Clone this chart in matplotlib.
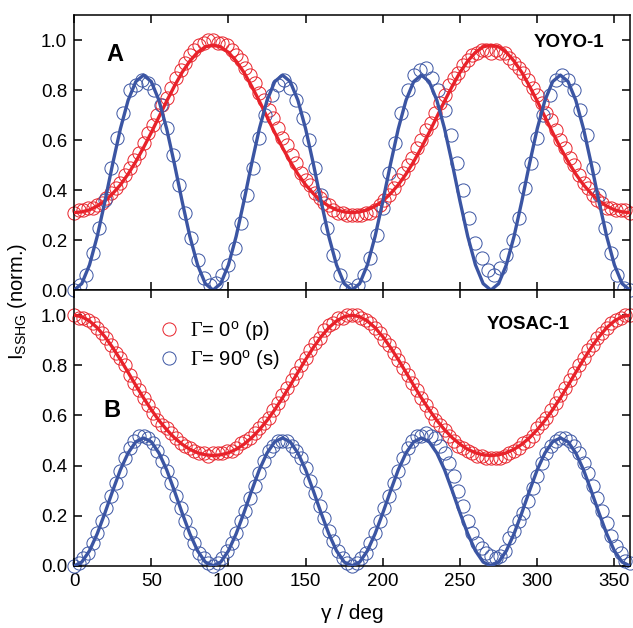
import numpy as np
import matplotlib
matplotlib.use('Agg')
import matplotlib.pyplot as plt

plt.rcParams['font.family'] = ['Liberation Sans', 'DejaVu Sans']
plt.rcParams['mathtext.fontset'] = 'custom'
plt.rcParams['mathtext.rm'] = 'Liberation Serif'
plt.rcParams['mathtext.sf'] = 'Liberation Sans'

RED = '#e8222a'
BLUE = '#3b55a3'

# measured points: red every 3 deg, blue (panel A) every 4 deg, blue (panel B) every 3 deg
gamma_red = np.arange(0, 361, 3)
gamma_blue_a = np.arange(0, 361, 4)
gamma_blue_b = np.arange(0, 361, 3)
gamma_fit = np.arange(0, 361, 5)

yoyo_p = [0.31, 0.32, 0.32, 0.33, 0.33, 0.34, 0.35, 0.37, 0.39, 0.41,
          0.43, 0.46, 0.49, 0.52, 0.55, 0.59, 0.63, 0.66, 0.70, 0.74,
          0.77, 0.81, 0.85, 0.88, 0.91, 0.94, 0.96, 0.98, 0.99, 1.00, 1.00,
          0.99, 0.99, 0.98, 0.96, 0.94, 0.92, 0.89, 0.86, 0.83, 0.79,
          0.76, 0.72, 0.69, 0.65, 0.61, 0.58, 0.54, 0.51, 0.47, 0.44,
          0.42, 0.39, 0.37, 0.35, 0.34, 0.32, 0.31, 0.31, 0.30, 0.30,
          0.30, 0.30, 0.31, 0.31, 0.32, 0.34, 0.36, 0.38, 0.41, 0.44,
          0.47, 0.50, 0.53, 0.57, 0.60, 0.64, 0.67, 0.71, 0.75, 0.78,
          0.82, 0.85, 0.87, 0.90, 0.92, 0.94, 0.95, 0.96, 0.96, 0.95,
          0.96, 0.95, 0.95, 0.93, 0.91, 0.89, 0.87, 0.84, 0.81, 0.78,
          0.75, 0.71, 0.68, 0.64, 0.60, 0.57, 0.53, 0.50, 0.46, 0.43,
          0.41, 0.38, 0.36, 0.35, 0.33, 0.33, 0.32, 0.32, 0.32, 0.31]

yoyo_s = [0.00, 0.02, 0.06, 0.15, 0.25, 0.36, 0.49, 0.61, 0.71, 0.80,
          0.82, 0.84, 0.83, 0.80, 0.74, 0.65, 0.54, 0.42, 0.31, 0.21,
          0.12, 0.05, 0.02,
          0.03, 0.06, 0.10, 0.17, 0.27, 0.38, 0.49, 0.61, 0.70, 0.78,
          0.82, 0.84, 0.81, 0.76, 0.69, 0.60, 0.49, 0.38, 0.25, 0.14,
          0.06, 0.01,
          0.00, 0.02, 0.06, 0.13, 0.22, 0.33, 0.47, 0.59, 0.71, 0.80,
          0.86, 0.88, 0.89, 0.85, 0.80, 0.72, 0.62, 0.51, 0.40, 0.29,
          0.19, 0.13, 0.08,
          0.06, 0.09, 0.14, 0.20, 0.29, 0.41, 0.51, 0.61, 0.70, 0.78,
          0.84, 0.86, 0.84, 0.80, 0.72, 0.62, 0.49, 0.38, 0.25, 0.15,
          0.06, 0.01, 0.00]

yosac_p = [1.00, 0.99, 0.99, 0.98, 0.97, 0.95, 0.93, 0.91, 0.88, 0.85,
           0.83, 0.80, 0.76, 0.73, 0.70, 0.67, 0.64, 0.61, 0.58, 0.56,
           0.55, 0.53, 0.51, 0.49, 0.48, 0.47, 0.46, 0.45, 0.45, 0.44, 0.45,
           0.45, 0.45, 0.46, 0.46, 0.47, 0.49, 0.50, 0.51, 0.53, 0.55,
           0.57, 0.59, 0.62, 0.65, 0.68, 0.71, 0.74, 0.77, 0.80, 0.83,
           0.86, 0.89, 0.91, 0.94, 0.96, 0.97, 0.99, 0.99, 1.00, 1.00,
           1.00, 0.99, 0.98, 0.97, 0.95, 0.93, 0.90, 0.88, 0.85, 0.82,
           0.79, 0.76, 0.73, 0.70, 0.67, 0.64, 0.61, 0.58, 0.56, 0.54,
           0.52, 0.50, 0.48, 0.47, 0.46, 0.45, 0.44, 0.44, 0.43, 0.43,
           0.43, 0.43, 0.44, 0.45, 0.46, 0.47, 0.49, 0.50, 0.52, 0.55,
           0.57, 0.59, 0.62, 0.65, 0.68, 0.71, 0.74, 0.77, 0.80, 0.83,
           0.86, 0.88, 0.91, 0.93, 0.95, 0.97, 0.98, 0.99, 1.00, 1.00]

yosac_s = [0.00, 0.01, 0.03, 0.05, 0.09, 0.13, 0.18, 0.23, 0.28, 0.33,
           0.38, 0.43, 0.47, 0.50, 0.52, 0.52, 0.51, 0.49, 0.46, 0.42,
           0.38, 0.33, 0.28, 0.23, 0.18, 0.13, 0.09, 0.05, 0.03, 0.01, 0.00,
           0.01, 0.03, 0.06, 0.09, 0.13, 0.18, 0.22, 0.27, 0.32, 0.37,
           0.42, 0.46, 0.48, 0.50, 0.50, 0.50, 0.48, 0.46, 0.43, 0.39,
           0.34, 0.29, 0.24, 0.19, 0.14, 0.10, 0.06, 0.03, 0.01, 0.00,
           0.01, 0.03, 0.05, 0.09, 0.13, 0.18, 0.23, 0.28, 0.33, 0.38,
           0.43, 0.47, 0.50, 0.52, 0.52, 0.53, 0.52, 0.51, 0.48, 0.45,
           0.41, 0.36, 0.30, 0.24, 0.18, 0.13, 0.09, 0.07, 0.05, 0.04,
           0.03, 0.04, 0.06, 0.11, 0.14, 0.18, 0.21, 0.26, 0.31, 0.36,
           0.41, 0.45, 0.48, 0.50, 0.51, 0.51, 0.50, 0.48, 0.45, 0.41,
           0.37, 0.32, 0.27, 0.22, 0.17, 0.12, 0.08, 0.05, 0.02, 0.01]

# fitted curves, every 5 deg
yoyo_p_fit = [0.310, 0.313, 0.321, 0.336, 0.357, 0.386, 0.421, 0.464, 0.514, 0.570,
              0.630, 0.693, 0.756, 0.816, 0.871, 0.916, 0.951, 0.973, 0.980,
              0.973, 0.951, 0.916, 0.871, 0.816, 0.756, 0.693, 0.630, 0.570,
              0.514, 0.464, 0.421, 0.386, 0.357, 0.336, 0.321, 0.313, 0.310,
              0.313, 0.321, 0.336, 0.357, 0.386, 0.421, 0.464, 0.514, 0.570,
              0.630, 0.693, 0.756, 0.816, 0.871, 0.916, 0.951, 0.973, 0.980,
              0.973, 0.951, 0.916, 0.871, 0.816, 0.756, 0.693, 0.630, 0.570,
              0.514, 0.464, 0.421, 0.386, 0.357, 0.336, 0.321, 0.313, 0.310]

yoyo_s_fit = [0.000, 0.026, 0.101, 0.215, 0.355, 0.505, 0.645, 0.759, 0.834, 0.860,
              0.834, 0.759, 0.645, 0.505, 0.355, 0.215, 0.101, 0.026, 0.000,
              0.026, 0.101, 0.215, 0.355, 0.505, 0.645, 0.759, 0.834, 0.860,
              0.834, 0.759, 0.645, 0.505, 0.355, 0.215, 0.101, 0.026, 0.000,
              0.026, 0.101, 0.215, 0.355, 0.505, 0.645, 0.759, 0.834, 0.860,
              0.834, 0.759, 0.645, 0.505, 0.355, 0.215, 0.101, 0.026, 0.000,
              0.026, 0.101, 0.215, 0.355, 0.505, 0.645, 0.759, 0.834, 0.860,
              0.834, 0.759, 0.645, 0.505, 0.355, 0.215, 0.101, 0.026, 0.000]

yosac_p_fit = [1.000, 0.994, 0.977, 0.950, 0.914, 0.871, 0.823, 0.772, 0.720, 0.670,
               0.623, 0.580, 0.543, 0.511, 0.485, 0.465, 0.451, 0.443, 0.440,
               0.443, 0.451, 0.465, 0.485, 0.511, 0.543, 0.580, 0.623, 0.670,
               0.720, 0.772, 0.823, 0.871, 0.914, 0.950, 0.977, 0.994, 1.000,
               0.994, 0.977, 0.950, 0.914, 0.871, 0.823, 0.772, 0.720, 0.670,
               0.623, 0.580, 0.543, 0.511, 0.485, 0.465, 0.451, 0.443, 0.440,
               0.443, 0.451, 0.465, 0.485, 0.511, 0.543, 0.580, 0.623, 0.670,
               0.720, 0.772, 0.823, 0.871, 0.914, 0.950, 0.977, 0.994, 1.000]

yosac_s_fit = [0.000, 0.015, 0.060, 0.128, 0.211, 0.299, 0.383, 0.450, 0.495, 0.510,
               0.495, 0.450, 0.383, 0.299, 0.211, 0.128, 0.060, 0.015, 0.000,
               0.015, 0.060, 0.128, 0.211, 0.299, 0.383, 0.450, 0.495, 0.510,
               0.495, 0.450, 0.383, 0.299, 0.211, 0.128, 0.060, 0.015, 0.000,
               0.015, 0.060, 0.128, 0.211, 0.299, 0.383, 0.450, 0.495, 0.510,
               0.495, 0.450, 0.383, 0.299, 0.211, 0.128, 0.060, 0.015, 0.000,
               0.015, 0.060, 0.128, 0.211, 0.299, 0.383, 0.450, 0.495, 0.510,
               0.495, 0.450, 0.383, 0.299, 0.211, 0.128, 0.060, 0.015, 0.000]

xticks = [0, 50, 100, 150, 200, 250, 300, 350]
yticks = [0.0, 0.2, 0.4, 0.6, 0.8, 1.0]
label_p = r'$\Gamma$= 0$^{\mathsf{o}}$ (p)'
label_s = r'$\Gamma$= 90$^{\mathsf{o}}$ (s)'

MS = 9.5
MEW = 0.7


def draw_panel(ax, x_p, y_p, x_s, y_s, fit_p, fit_s):
    ax.plot(x_p, y_p, 'o', mfc='none', mec=RED, ms=MS, mew=MEW,
            clip_on=False, zorder=2)
    ax.plot(x_s, y_s, 'o', mfc='none', mec=BLUE, ms=MS, mew=MEW,
            clip_on=False, zorder=2)
    ax.plot(gamma_fit, fit_p, '-', color=RED, lw=2.4, zorder=3)
    ax.plot(gamma_fit, fit_s, '-', color=BLUE, lw=2.4, zorder=3)
    ax.set_xlim(0, 360)
    ax.set_ylim(0, 1.1)
    ax.set_xticks(xticks)
    ax.set_yticks(yticks)
    ax.set_yticklabels(['%.1f' % v for v in yticks])
    ax.tick_params(direction='in', length=6, width=1.1, top=True, right=True,
                   labelsize=13.5, pad=5)
    for sp in ax.spines.values():
        sp.set_linewidth(1.1)


fig = plt.figure(figsize=(6.33, 6.28), dpi=100)
ax1 = fig.add_axes([0.117, 0.538, 0.878, 0.438])
ax2 = fig.add_axes([0.117, 0.099, 0.878, 0.439])

draw_panel(ax1, gamma_red, yoyo_p, gamma_blue_a, yoyo_s, yoyo_p_fit, yoyo_s_fit)
draw_panel(ax2, gamma_red, yosac_p, gamma_blue_b, yosac_s, yosac_p_fit, yosac_s_fit)
ax1.tick_params(labelbottom=False)

ax1.text(0.074, 0.855, 'A', transform=ax1.transAxes, fontsize=17,
         fontweight='bold', ha='center', va='center')
ax1.text(0.955, 0.9, 'YOYO-1', transform=ax1.transAxes, fontsize=13.5,
         fontweight='bold', ha='right', va='center')
ax2.text(0.068, 0.565, 'B', transform=ax2.transAxes, fontsize=17,
         fontweight='bold', ha='center', va='center')
ax2.text(0.892, 0.875, 'YOSAC-1', transform=ax2.transAxes, fontsize=13.5,
         fontweight='bold', ha='right', va='center')

h_p, = ax2.plot([], [], 'o', mfc='none', mec=RED, ms=MS, mew=MEW)
h_s, = ax2.plot([], [], 'o', mfc='none', mec=BLUE, ms=MS, mew=MEW)
ax2.legend([h_p, h_s], [label_p, label_s], loc='center left',
           bbox_to_anchor=(0.14, 0.80), frameon=False, fontsize=14.5,
           handlelength=0.9, handletextpad=0.6, labelspacing=0.25,
           borderaxespad=0)

ax2.set_xlabel('γ / deg', fontsize=15, labelpad=10)
fig.text(0.028, 0.52, r'I$_{\mathsf{SSHG}}$ (norm.)', rotation=90,
         fontsize=14.5, ha='center', va='center')

fig.savefig('out.png', dpi=100)
plt.close()
